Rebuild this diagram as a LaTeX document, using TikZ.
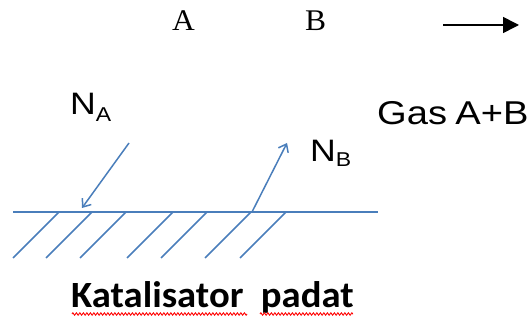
\documentclass[tikz,border=0pt]{standalone}
\usepackage{fontspec}
\setmainfont{Liberation Serif}
\newfontfamily\arialfont{Liberation Sans}
\newfontfamily\calibrifont{Carlito}
\usetikzlibrary{arrows.meta,decorations.pathmorphing}
\definecolor{lineblue}{RGB}{74,126,187}
\newcommand{\wide}[2]{\scalebox{#1}[1]{#2}}
\tikzset{
  surface/.style={draw=lineblue,line width=1.5pt},
  flux/.style={draw=lineblue,line width=1.5pt,-{Straight Barb[length=7pt,width=11pt,line width=1.5pt]}},
  label/.style={inner sep=0pt,anchor=base west},
  spell/.style={draw=red,line width=0.9pt,decorate,decoration={zigzag,segment length=3.5pt,amplitude=1.2pt}}
}
\begin{document}
\begin{tikzpicture}[x=1pt,y=-1pt]
\useasboundingbox (0,0) rectangle (530,320);
% flow direction of the gas mixture
\node[label] (a) at (172,31) {\wide{1.05}{\fontsize{30}{30}\selectfont A}};
\node[label] (b) at (305,31) {\wide{1.05}{\fontsize{30}{30}\selectfont B}};
\coordinate (f1) at (443,25);
\coordinate (f2) at (519,25);
\draw[line width=1.6pt,-{Triangle[length=16pt,width=16pt]}] (f1) -- (f2);
% catalyst surface and hatching
\coordinate (s1) at (13,212);
\coordinate (s2) at (378,212);
\draw[surface] (s1) -- (s2);
\foreach \x in {59,92,126,173,207,251,286}
  \draw[surface] (\x,212) -- ++(-46,46);
% molar fluxes
\coordinate (na1) at (129,143);
\coordinate (na2) at (82,208);
\draw[flux] (na1) -- (na2);
\coordinate (nb1) at (252,212);
\coordinate (nb2) at (287,143);
\draw[flux] (nb1) -- (nb2);
\node[label] (lna) at (70,115) {\wide{1.15}{\arialfont\fontsize{31}{31}\selectfont N\raisebox{-7pt}{\fontsize{20}{20}\selectfont A}}};
\node[label] (lnb) at (310,162) {\wide{1.15}{\arialfont\fontsize{31}{31}\selectfont N\raisebox{-5pt}{\fontsize{20}{20}\selectfont B}}};
\node[label] (gas) at (377,125) {\wide{1.155}{\arialfont\fontsize{33}{33}\selectfont Gas\hspace{-2pt} A+B}};
% catalyst caption
\node[label] (kat) at (71,308) {\wide{1.045}{\calibrifont\bfseries\fontsize{37}{37}\selectfont Katalisator\hspace{0.45em}padat}};
\coordinate (w1) at (72,314);
\coordinate (w2) at (247,314);
\coordinate (w3) at (260,314);
\coordinate (w4) at (353,314);
\draw[spell] (w1) -- (w2);
\draw[spell] (w3) -- (w4);
\end{tikzpicture}
\end{document}
